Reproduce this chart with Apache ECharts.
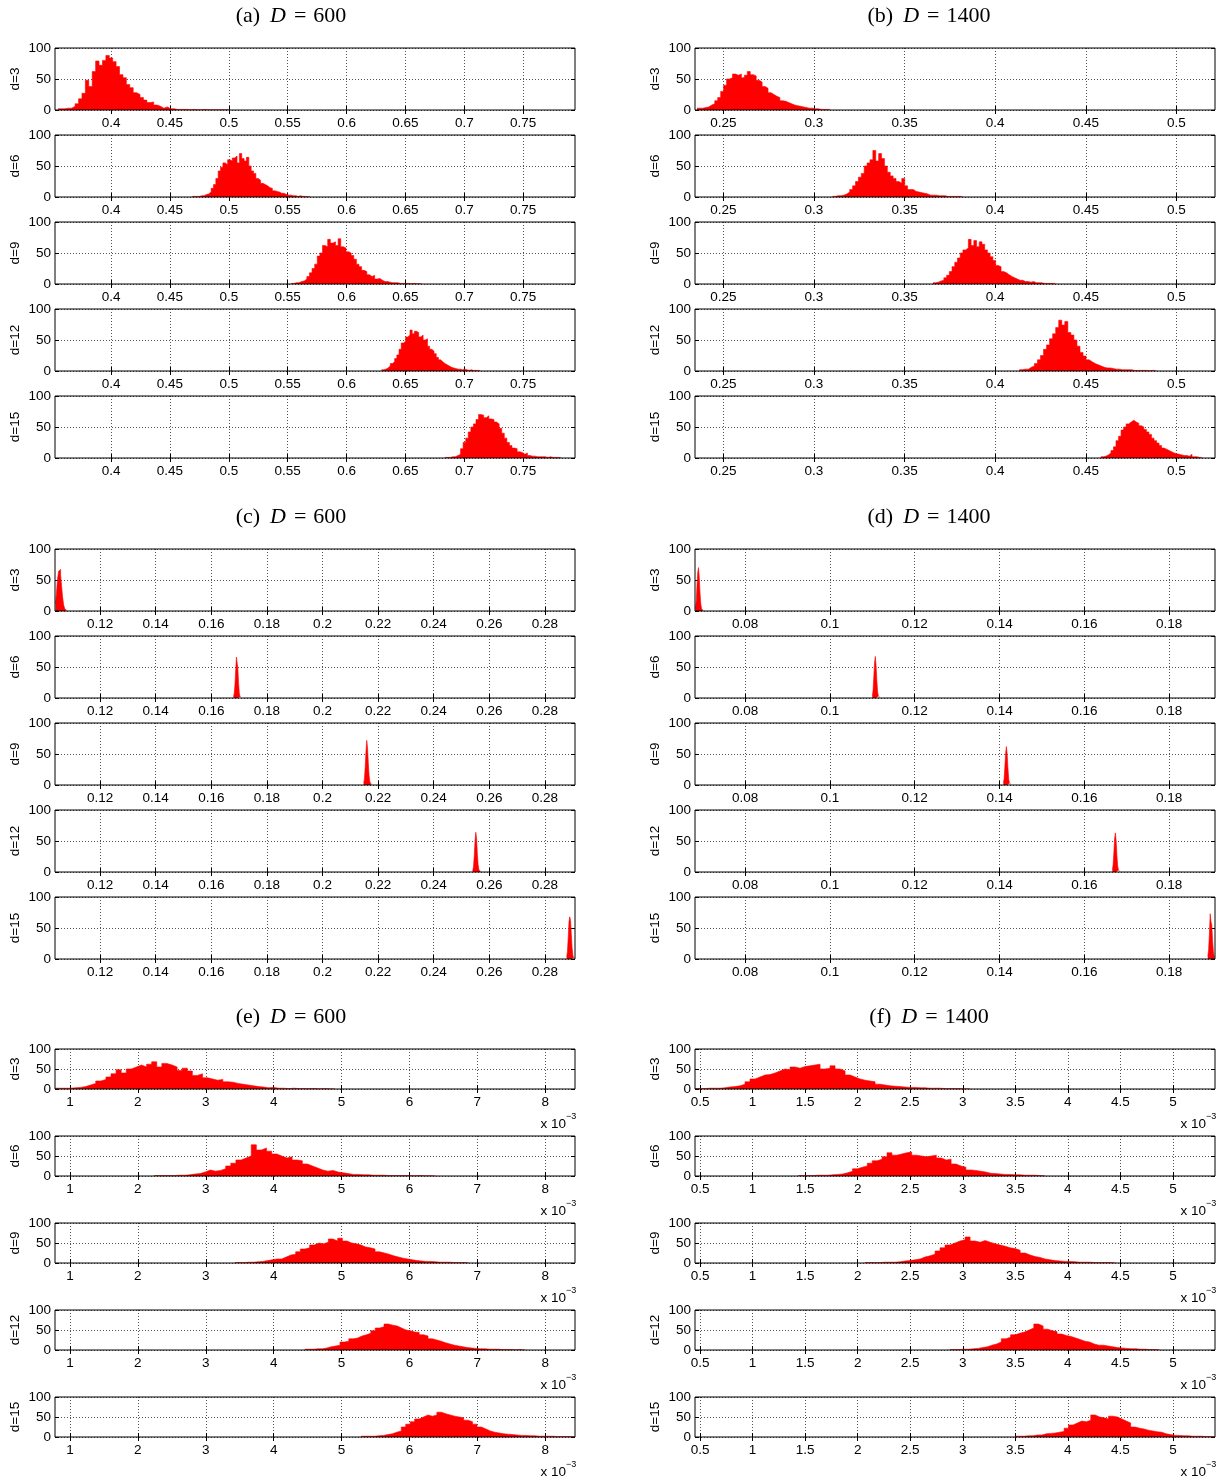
<!DOCTYPE html>
<html><head><meta charset="utf-8">
<script src="https://cdn.jsdelivr.net/npm/echarts@6/dist/echarts.min.js"></script>
<style>html,body{margin:0;padding:0;background:#fff}#c{width:1225px;height:1479px}</style>
</head><body><div id="c"></div>
<script>
// ---------- tick labels ----------
const ticksA = [0.4, 0.45, 0.5, 0.55, 0.6, 0.65, 0.7, 0.75];
const ticksB = [0.25, 0.3, 0.35, 0.4, 0.45, 0.5];
const ticksC = [0.12, 0.14, 0.16, 0.18, 0.2, 0.22, 0.24, 0.26, 0.28];
const ticksD = [0.08, 0.1, 0.12, 0.14, 0.16, 0.18];
const ticksE = [1, 2, 3, 4, 5, 6, 7, 8];
const ticksF = [0.5, 1, 1.5, 2, 2.5, 3, 3.5, 4, 4.5, 5];
const rowLabels = ['d=3', 'd=6', 'd=9', 'd=12', 'd=15'];
const yTicks = [0, 50, 100];

// ---------- axis ranges ----------
const xRangeA = [0.3524, 0.794];
const xRangeB = [0.2344, 0.5213];
const xRangeC = [0.1038, 0.2908];
const xRangeD = [0.0682, 0.1908];
const xRangeE = [0.779, 8.44];   // x 10^-3
const xRangeF = [0.452, 5.40];   // x 10^-3

// ---------- histograms: bin range [lo, hi] and counts ----------
// (a) D = 600
const a3r = [0.355, 0.500];
const a3 = [2,2,3,3,6,10,18,27,48,38,62,79,72,80,88,84,78,70,57,52,41,36,28,25,20,16,12,13,8,6,3,5,2,2,1,1,1,1,0.5,1,0.5,0.5,1,0.5,0.5,0.5,0.5,0.5,0.5,1];
const a6r = [0.469, 0.569];
const a6 = [1,1,1,2,2,4,5,8,14,20,30,42,48,55,52,60,58,63,66,55,70,62,58,64,50,42,38,30,27,22,20,18,15,14,10,9,8,6,6,4,3,3,2,2,1,2,1,1,0.5,1];
const a9r = [0.553, 0.6637];
const a9 = [1,2,2,4,5,8,12,18,25,32,45,50,62,60,72,66,68,62,73,60,58,52,50,46,40,32,28,22,20,15,12,14,8,9,6,4,4,3,2,2,2,1,1,1,1,0.5,1,0.5,0.5,1];
const a12r = [0.6297, 0.7133];
const a12 = [2,3,5,8,12,15,20,26,35,45,48,55,58,66,60,64,62,55,58,50,52,40,35,32,28,22,18,15,12,10,8,6,5,4,3,3,2,3,2,1,2,1,1,1,1];
const a15r = [0.6837, 0.782];
const a15 = [1,1,2,2,4,6,15,25,32,42,50,55,62,70,69,65,68,63,62,58,55,48,40,32,25,20,16,15,10,9,6,8,4,3,3,2,2,2,2,1,2,1,1,1,1];

// (b) D = 1400
const b3r = [0.2355, 0.309];
const b3 = [3,3,4,5,8,10,15,20,30,40,50,52,58,56,58,52,56,62,57,55,48,45,38,35,28,25,22,20,15,14,12,10,8,7,6,5,4,3,3,2,2,1,1,1,1];
const b6r = [0.3102, 0.382];
const b6 = [1,2,2,3,5,8,12,18,25,32,38,50,55,60,75,58,70,62,50,40,34,30,25,22,30,18,12,12,9,8,7,6,5,3,3,3,2,2,2,1,1,1,1,1,1];
const b9r = [0.3657, 0.4333];
const b9 = [2,3,5,6,10,14,20,28,35,42,50,55,58,72,62,70,60,68,64,55,50,44,38,30,28,20,18,15,12,10,8,6,6,4,4,3,4,2,2,2,1,1,1,1,1];
const b12r = [0.4133, 0.4887];
const b12 = [2,3,3,6,8,12,18,25,35,42,52,60,70,82,74,80,62,58,50,40,30,24,18,15,12,10,8,6,5,5,4,3,3,2,2,2,2,1,1,1,1,1,0.5,1,1];
const b15r = [0.4583, 0.5142];
const b15 = [2,3,5,8,12,18,28,35,45,50,55,58,61,58,56,52,50,46,42,38,32,28,24,20,16,14,12,10,8,7,6,5,4,4,3,6,2,2,1,1];

// (c) D = 600
const c3r = [0.1040, 0.1080];
const c3 = [12,32,52,64,67,58,40,22,10,4,1];
const c6r = [0.1680, 0.1706];
const c6 = [2,8,22,45,66,68,48,24,8,2];
const c9r = [0.2148, 0.2176];
const c9 = [3,10,30,55,72,60,35,15,5,2];
const c12r = [0.2540, 0.2568];
const c12 = [2,8,25,50,64,55,30,12,4,1];
const c15r = [0.2878, 0.2906];
const c15 = [3,12,35,60,68,62,40,18,6,2];

// (d) D = 1400
const d3r = [0.0683, 0.0701];
const d3 = [4,15,40,62,70,55,30,12,4,1];
const d6r = [0.1100, 0.1118];
const d6 = [3,12,35,58,67,52,28,10,3,1];
const d9r = [0.1409, 0.1427];
const d9 = [3,10,30,52,62,50,28,10,3,1];
const d12r = [0.1666, 0.1684];
const d12 = [3,12,32,55,63,50,26,10,3,1];
const d15r = [0.1891, 0.1908];
const d15 = [4,15,40,73,60,55,30,12,4];

// (e) D = 600  (x 10^-3)
const e3r = [0.78, 4.90];
const e3 = [2,2,2,3,4,6,10,14,20,24,30,38,48,40,50,55,60,55,62,68,55,64,60,55,46,52,45,34,38,28,25,22,24,18,17,14,12,10,8,6,5,3,4,2,2,1,2,1,1,1,1,0.5,1,0.5,0.5];
const e6r = [2.24, 6.38];
const e6 = [1,1,1,1,2,2,3,5,6,10,15,12,14,18,25,32,40,45,50,78,65,70,62,55,50,45,48,40,38,30,25,20,15,12,14,10,8,6,4,4,3,3,2,2,2,1,1,1,1,1,0.5,1,0.5,0.5,0.5];
const e9r = [3.43, 6.87];
const e9 = [1,1,2,2,3,4,6,8,10,10,15,20,22,28,35,38,45,50,48,52,60,55,62,55,50,48,45,40,38,35,28,25,22,18,15,12,10,8,6,5,4,4,3,2,2,2,1,1,1,1];
const e12r = [4.46, 7.70];
const e12 = [2,2,3,3,5,8,10,12,20,22,28,30,35,38,42,48,55,58,65,62,60,55,50,48,45,44,38,35,28,25,22,18,15,12,10,8,6,5,4,3,3,2,2,2,1,1,1,0.5,1,0.5];
const e15r = [5.29, 8.44];
const e15 = [2,2,2,3,4,6,8,12,15,25,32,38,45,50,55,52,55,62,58,55,52,50,48,42,38,32,25,20,15,12,10,8,7,6,5,4,4,3,3,2,2,2,2,1,1,1,1,1];

// (f) D = 1400  (x 10^-3)
const f3r = [0.452, 3.07];
const f3 = [1,1,2,2,2,3,5,6,8,12,18,25,30,35,36,40,45,50,48,55,52,56,58,60,62,50,52,58,50,45,35,30,25,22,20,18,12,10,8,7,6,5,4,4,3,3,2,2,2,1,1,1,1,0.5,0.5];
const f6r = [1.435, 3.78];
const f6 = [1,1,1,2,2,2,3,4,5,8,12,18,22,25,32,38,42,48,58,52,55,58,60,52,50,48,50,52,45,40,42,30,25,22,15,14,12,10,7,6,5,4,4,3,3,2,2,2,1,1];
const f9r = [2.07, 4.45];
const f9 = [1,1,1,2,2,2,3,5,6,8,10,15,18,22,30,38,45,50,55,58,65,55,52,56,52,48,45,42,38,36,32,25,20,16,14,10,8,6,5,4,4,3,2,2,2,1,1,1,1,0.5];
const f12r = [2.88, 4.87];
const f12 = [1,1,2,2,3,4,6,8,12,15,20,28,32,38,42,45,50,55,65,60,52,48,46,40,36,34,30,26,22,20,15,12,12,10,8,6,5,4,3,3,2,2,1,1,1];
const f15r = [3.50, 5.40];
const f15 = [2,2,3,3,5,5,8,9,10,12,14,22,30,35,40,38,42,55,50,48,45,52,50,45,40,35,25,22,20,17,15,13,12,8,6,4,4,3,3,2,2,2,1,1,1];

// ---------- layout ----------
const FONT = '"Liberation Sans", Arial, Helvetica, sans-serif';
const SERIF = '"Liberation Serif", "Times New Roman", "DejaVu Serif", serif';
const colLeft = [55, 695];
const plotW = 520;
const groupTops = [[48,135,222,309,396],[549,636,723,810,897],[1049,1136,1223,1310,1397]];
const groupH = [62, 62, 40];
const titleY = [16, 517, 1017];
const titleX = [291, 929];

const panels = [
  {tag:'(a)', D:'600',  col:0, grp:0, xr:xRangeA, ticks:ticksA, hists:[[a3r,a3],[a6r,a6],[a9r,a9],[a12r,a12],[a15r,a15]], exp:false},
  {tag:'(b)', D:'1400', col:1, grp:0, xr:xRangeB, ticks:ticksB, hists:[[b3r,b3],[b6r,b6],[b9r,b9],[b12r,b12],[b15r,b15]], exp:false},
  {tag:'(c)', D:'600',  col:0, grp:1, xr:xRangeC, ticks:ticksC, hists:[[c3r,c3],[c6r,c6],[c9r,c9],[c12r,c12],[c15r,c15]], exp:false},
  {tag:'(d)', D:'1400', col:1, grp:1, xr:xRangeD, ticks:ticksD, hists:[[d3r,d3],[d6r,d6],[d9r,d9],[d12r,d12],[d15r,d15]], exp:false},
  {tag:'(e)', D:'600',  col:0, grp:2, xr:xRangeE, ticks:ticksE, hists:[[e3r,e3],[e6r,e6],[e9r,e9],[e12r,e12],[e15r,e15]], exp:true},
  {tag:'(f)', D:'1400', col:1, grp:2, xr:xRangeF, ticks:ticksF, hists:[[f3r,f3],[f6r,f6],[f9r,f9],[f12r,f12],[f15r,f15]], exp:true}
];

const option = {animation:false, backgroundColor:'#fff', grid:[], xAxis:[], yAxis:[], series:[], graphic:[]};
const dotted = {color:'#555', type:[1,2], width:1};

panels.forEach(p => {
  p.hists.forEach((h, k) => {
    const gi = option.grid.length;
    const top = groupTops[p.grp][k];
    const H = groupH[p.grp];
    option.grid.push({left:colLeft[p.col], top:top, width:plotW, height:H, show:true,
      borderColor:'#000', borderWidth:1, backgroundColor:'transparent', z:10});
    const xb = option.xAxis.length;
    option.xAxis.push({type:'value', gridIndex:gi, min:p.xr[0], max:p.xr[1], position:'bottom',
      axisLine:{show:false},
      axisTick:{show:true, inside:true, length:4, customValues:p.ticks, lineStyle:{color:'#000'}},
      axisLabel:{customValues:p.ticks, fontSize:13.5, color:'#000', fontFamily:FONT, margin:6},
      splitLine:{show:true, lineStyle:dotted}});
    option.xAxis.push({type:'value', gridIndex:gi, min:p.xr[0], max:p.xr[1], position:'top',
      axisLine:{show:false},
      axisTick:{show:true, inside:true, length:4, customValues:p.ticks, lineStyle:{color:'#000'}},
      axisLabel:{show:false}, splitLine:{show:false}});
    const yb = option.yAxis.length;
    option.yAxis.push({type:'value', gridIndex:gi, min:0, max:100, interval:50, position:'left',
      name:rowLabels[k], nameLocation:'middle', nameGap:33, nameRotate:90,
      nameTextStyle:{fontSize:13.5, color:'#000', fontFamily:FONT},
      axisLine:{show:false},
      axisTick:{show:true, inside:true, length:4, lineStyle:{color:'#000'}},
      axisLabel:{fontSize:13.5, color:'#000', fontFamily:FONT, margin:4},
      splitLine:{show:true, lineStyle:dotted}});
    option.yAxis.push({type:'value', gridIndex:gi, min:0, max:100, interval:50, position:'right',
      axisLine:{show:false},
      axisTick:{show:true, inside:true, length:4, lineStyle:{color:'#000'}},
      axisLabel:{show:false}, splitLine:{show:false}});
    const lo = h[0][0], hi = h[0][1], counts = h[1];
    const w = (hi - lo) / counts.length;
    const data = counts.map((c, i) => [lo + i * w, c]);
    data.push([hi, counts[counts.length - 1]]);
    option.series.push({type:'line', xAxisIndex:xb, yAxisIndex:yb, data:data, step:'end',
      symbol:'none', silent:true, z:2,
      lineStyle:{color:'#ff0000', width:0.6},
      areaStyle:{color:'#ff0000', opacity:1}});
    if (p.exp) {
      const xr = colLeft[p.col] + plotW;
      option.graphic.push({type:'text', x:xr - 9, y:top + H + 35, silent:true,
        style:{text:'x 10', fill:'#000', fontSize:13.5, fontFamily:FONT, align:'right', verticalAlign:'middle'}});
      option.graphic.push({type:'text', x:xr - 9, y:top + H + 28, silent:true,
        style:{text:'\u22123', fill:'#000', fontSize:9, fontFamily:FONT, align:'left', verticalAlign:'middle'}});
    }
  });
  option.graphic.push({type:'text', x:titleX[p.col], y:titleY[p.grp], silent:true,
    style:{text:'{n|' + p.tag + '}{i|D}{e|=}{v|' + p.D + '}', align:'center', verticalAlign:'middle',
      rich:{
        n:{fontFamily:SERIF, fontSize:22, fill:'#000', padding:[0,10,0,0]},
        i:{fontFamily:SERIF, fontSize:22, fontStyle:'italic', fill:'#000', padding:[0,8,0,0]},
        e:{fontFamily:SERIF, fontSize:22, fill:'#000', padding:[0,7,0,0]},
        v:{fontFamily:SERIF, fontSize:22, fill:'#000'}
      }}});
});

const chart = echarts.init(document.getElementById('c'), null, {renderer:'canvas'});
chart.setOption(option);
</script>
</body></html>
